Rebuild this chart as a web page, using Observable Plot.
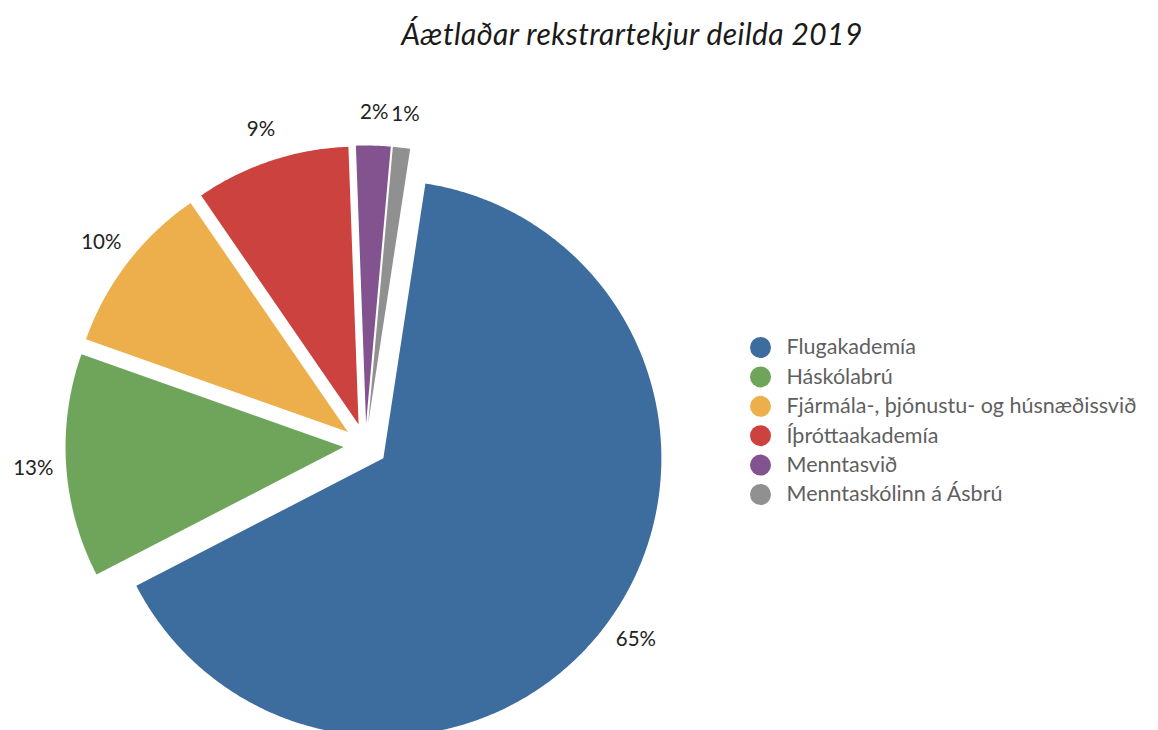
<!DOCTYPE html>
<html><head><meta charset="utf-8">
<script src="https://cdn.jsdelivr.net/npm/d3@7"></script>
<script src="https://cdn.jsdelivr.net/npm/@observablehq/plot@0.6"></script>
<style>
html,body{margin:0;padding:0;overflow:hidden;background:#fff;width:1158px;height:730px}
#title{height:60px;position:relative;font-family:Lato,sans-serif;font-style:italic;font-size:30px;letter-spacing:0.4px;color:#1a1a1a}
#title span{position:absolute;left:632px;top:33px;transform:translate(-50%,-50%);white-space:nowrap}
</style></head><body>
<div id="title"><span>Áætlaðar rekstrartekjur deilda 2019</span></div>
<div id="chart"></div>
<script>
const categories = ["Flugakademía","Háskólabrú","Fjármála-, þjónustu- og húsnæðissvið","Íþróttaakademía","Menntasvið","Menntaskólinn á Ásbrú"];
const values = [65,13,10,9,2,1];
const pctLabels = ["65%","13%","10%","9%","2%","1%"];
const colors = ["#3d6c9e","#6ea55a","#edaf4b","#cb423f","#83538f","#8f908f"];

const W = 1158, H = 670;
const cx = 365, cy = 385, R = 278, explode = 22, labelR = 333;
const start = 8.7 * Math.PI / 180;
const arcs = d3.pie().sort(null).startAngle(start).endAngle(start + 2 * Math.PI)(values);
const pts = [], labels = [];
arcs.forEach((a, i) => {
  const mid = (a.startAngle + a.endAngle) / 2;
  const ox = cx + explode * Math.sin(mid), oy = cy - explode * Math.cos(mid);
  pts.push({name: categories[i], x: ox, y: oy});
  const n = Math.max(6, Math.ceil((a.endAngle - a.startAngle) / (Math.PI / 360)));
  for (let k = 0; k <= n; k++) {
    const t = a.startAngle + (a.endAngle - a.startAngle) * k / n;
    pts.push({name: categories[i], x: ox + R * Math.sin(t), y: oy - R * Math.cos(t)});
  }
  labels.push({text: pctLabels[i], x: cx + labelR * Math.sin(mid), y: cy - labelR * Math.cos(mid)});
});
const legend = categories.map((c, i) => ({name: c, x: 760, y: 287 + i * 29.4}));

const chart = Plot.plot({
  width: W, height: H, margin: 0,
  style: {fontFamily: "Lato, sans-serif", background: "#fff"},
  x: {domain: [0, W], range: [0, W], axis: null},
  y: {domain: [0, H], range: [0, H], axis: null},
  color: {domain: categories, range: colors},
  marks: [
    Plot.line(pts, {x: "x", y: "y", z: "name", fill: "name", stroke: null, curve: "linear-closed"}),
    Plot.text(labels, {x: "x", y: "y", text: "text", fontSize: 20.5, fill: "#222", textAnchor: "middle"}),
    Plot.dot(legend, {x: "x", y: "y", r: 10.5, fill: "name", stroke: null}),
    Plot.text(legend, {x: "x", y: "y", text: "name", dx: 26, textAnchor: "start", fontSize: 21.5, fill: "#5f5f5f"})
  ]
});
document.getElementById("chart").appendChild(chart);
</script>
</body></html>
